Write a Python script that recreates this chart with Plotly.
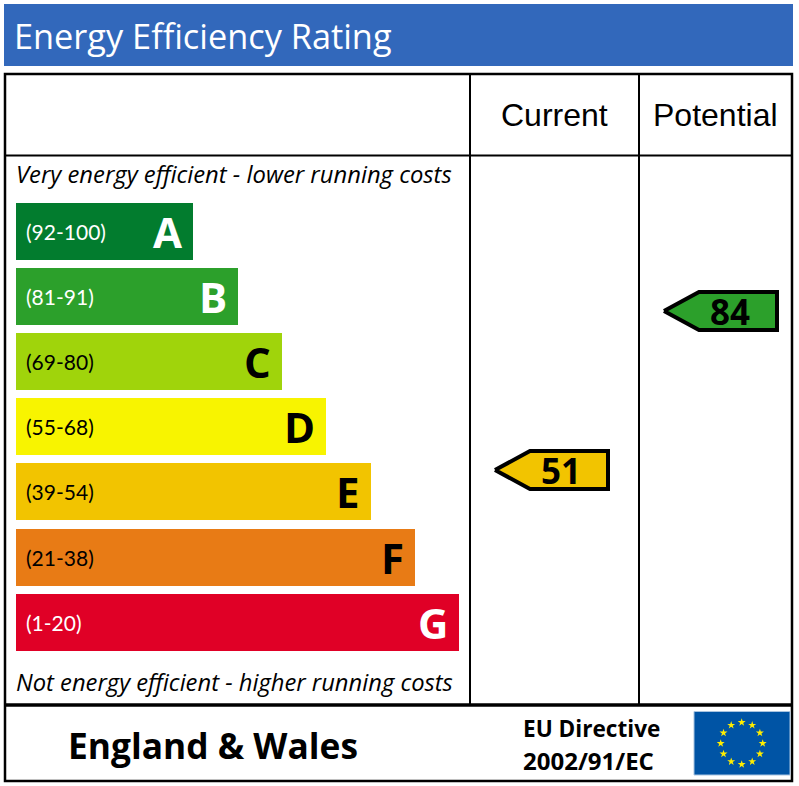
import math
import plotly.graph_objects as go

# bands of the rating
bands = ["A", "B", "C", "D", "E", "F", "G"]
ranges = ["(92-100)", "(81-91)", "(69-80)", "(55-68)", "(39-54)", "(21-38)", "(1-20)"]
bar_lengths = [177, 222, 266, 310, 355, 399, 443]
bar_colors = ["#027C2E", "#2CA02B", "#A0D40B", "#F8F400", "#F2C400", "#E87B15", "#E00026"]
text_colors = ["white", "white", "black", "black", "black", "black", "white"]

# current and potential scores
columns = ["Current", "Potential"]
scores = [51, 84]
score_colors = ["#F2C400", "#2CA02B"]

W, H = 799, 786
BAR_LEFT = 16
PX_PER_POINT = 4.818
ROW_PITCH = 65.17
FIRST_ROW = 231.3
score_top = 51 + 470 / PX_PER_POINT
score_bottom = 51 - (H - 470) / PX_PER_POINT

fig = go.Figure()

fig.add_trace(go.Bar(
    y=bands, x=bar_lengths, base=BAR_LEFT, orientation="h",
    marker=dict(color=bar_colors, line=dict(width=0)),
    yaxis="y2", width=0.875, hoverinfo="skip",
))

# arrows, placed on the score axis
arrow_left = [495, 664]
for i, s in enumerate(scores):
    tip = arrow_left[i]
    half = 19 / PX_PER_POINT
    fig.add_trace(go.Scatter(
        x=[tip, tip + 35, tip + 113, tip + 113, tip + 35, tip],
        y=[s, s + half, s + half, s - half, s - half, s],
        mode="lines", fill="toself", fillcolor=score_colors[i],
        line=dict(color="black", width=4), yaxis="y3", hoverinfo="skip",
    ))
    fig.add_annotation(x=tip + 66, y=s, xref="x", yref="y3", text="<b>%d</b>" % s,
                       showarrow=False, font=dict(family="Open Sans", size=35, color="black"))

# EU flag stars
star_angles = [i * 30 for i in range(12)]
fig.add_trace(go.Scatter(
    x=[741.7 + 21 * math.cos(math.radians(a)) for a in star_angles],
    y=[743.4 + 21 * math.sin(math.radians(a)) for a in star_angles],
    mode="markers", marker=dict(symbol="star", size=6, color="#FFED00", line=dict(width=0)),
    hoverinfo="skip",
))

shapes = [
    dict(type="rect", x0=4, x1=793, y0=4, y1=66, fillcolor="#3268BB", line=dict(width=0), layer="below"),
    dict(type="rect", x0=5, x1=792, y0=74, y1=781, line=dict(color="black", width=2.5), layer="below"),
    dict(type="line", x0=5, x1=792, y0=155.5, y1=155.5, line=dict(color="black", width=2)),
    dict(type="line", x0=470, x1=470, y0=74, y1=705, line=dict(color="black", width=2)),
    dict(type="line", x0=639, x1=639, y0=74, y1=705, line=dict(color="black", width=2)),
    dict(type="line", x0=5, x1=792, y0=705, y1=705, line=dict(color="black", width=3.5)),
    dict(type="rect", x0=694, x1=790, y0=711.5, y1=775, fillcolor="#0054A5",
         line=dict(color="#A9C4E0", width=1), layer="below"),
]
for s in shapes:
    s["xref"] = "x"
    s["yref"] = "y"

for band, r, n, c in zip(bands, ranges, bar_lengths, text_colors):
    fig.add_annotation(x=BAR_LEFT + 8, y=band, xref="x", yref="y2", text=r, showarrow=False, xanchor="left",
                       font=dict(family="Lato", size=21, color=c))
    fig.add_annotation(x=BAR_LEFT + n - 9, y=band, xref="x", yref="y2", text="<b>%s</b>" % band,
                       showarrow=False, xanchor="right",
                       font=dict(family="Open Sans", size=42, color=c))


def label(x, y, text, size, family="Open Sans", color="black", anchor="left"):
    fig.add_annotation(x=x, y=y, xref="x", yref="y", text=text, showarrow=False, xanchor=anchor,
                       font=dict(family=family, size=size, color=color))


label(12, 35, "Energy Efficiency Rating", 34.3, color="white")
label(554.5, 115, columns[0], 32, family="Liberation Sans", anchor="center")
label(715.5, 115, columns[1], 32, family="Liberation Sans", anchor="center")
label(14, 174, "<i>Very energy efficient - lower running costs</i>", 23.8)
label(14, 682, "<i>Not energy efficient - higher running costs</i>", 23.75)
label(66, 745, "<b>England &amp; Wales</b>", 35.3)
label(521, 728, "<b>EU Directive</b>", 22.6)
label(521, 760, "<b>2002/91/EC</b>", 24)

fig.update_layout(
    width=W, height=H, margin=dict(l=0, r=0, t=0, b=0),
    paper_bgcolor="white", plot_bgcolor="white", showlegend=False,
    shapes=shapes, bargap=0,
    xaxis=dict(range=[0, W], visible=False, fixedrange=True),
    yaxis=dict(range=[H, 0], visible=False, fixedrange=True),
    yaxis2=dict(overlaying="y", categoryorder="array", categoryarray=bands, visible=False,
                range=[(H - FIRST_ROW) / ROW_PITCH, -FIRST_ROW / ROW_PITCH]),
    yaxis3=dict(overlaying="y", range=[score_bottom, score_top], visible=False),
)

fig.write_html("out.html", post_script="document.body.style.margin='0';",
               config=dict(displayModeBar=False))
